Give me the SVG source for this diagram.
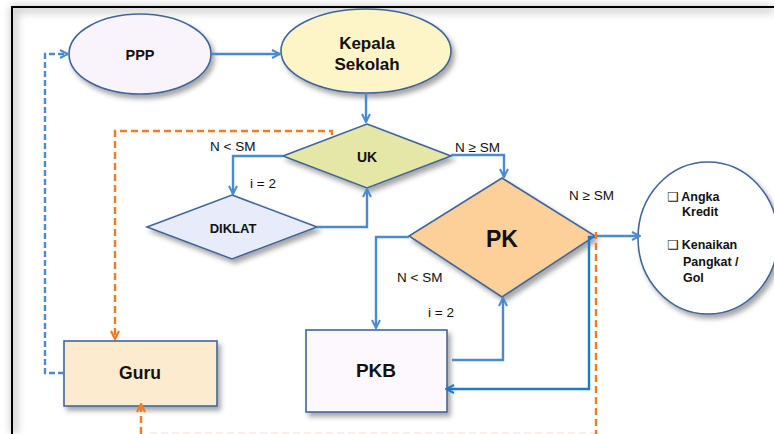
<svg xmlns="http://www.w3.org/2000/svg" width="774" height="434" viewBox="0 0 774 434">
<defs>
<filter id="sh" x="-20%" y="-20%" width="150%" height="160%">
<feDropShadow dx="3" dy="4" stdDeviation="2.5" flood-color="#000" flood-opacity="0.35"/>
</filter>
<filter id="fb" x="-5%" y="-5%" width="110%" height="110%">
<feGaussianBlur stdDeviation="4"/>
</filter>
<marker id="ab" viewBox="0 0 10 10" refX="9" refY="5" markerWidth="10" markerHeight="10" markerUnits="userSpaceOnUse" orient="auto">
<path d="M1,1 L9,5 L1,9" fill="none" stroke="#4a8ad0" stroke-width="2"/>
</marker>
<marker id="ab2" viewBox="0 0 10 10" refX="9" refY="5" markerWidth="10" markerHeight="10" markerUnits="userSpaceOnUse" orient="auto">
<path d="M1,1 L9,5 L1,9" fill="none" stroke="#1f78cf" stroke-width="2"/>
</marker>
<marker id="ao" viewBox="0 0 10 10" refX="9" refY="5" markerWidth="10" markerHeight="10" markerUnits="userSpaceOnUse" orient="auto">
<path d="M1,1 L9,5 L1,9" fill="none" stroke="#f47b20" stroke-width="2.2"/>
</marker>
</defs>
<style>
.node{stroke:#41659b;stroke-width:1.6;filter:url(#sh)}
.t{font-family:"Liberation Sans","DejaVu Sans",sans-serif;font-weight:bold;fill:#111;text-anchor:middle}
.lb{font-family:"Liberation Sans","DejaVu Sans",sans-serif;fill:#111;font-size:13.5px}
.tl{font-family:"Liberation Sans","DejaVu Sans",sans-serif;font-weight:bold;fill:#111;font-size:12.5px}
.bl{fill:none;stroke:#4a8ad0;stroke-width:2.4}
.bd{fill:none;stroke:#4a8ad0;stroke-width:2.4;stroke-dasharray:6,3}
.od{fill:none;stroke:#f47b20;stroke-width:2.4;stroke-dasharray:7,4}
</style>
<rect width="774" height="434" fill="#fff"/>
<path d="M14 434 V9 H774" fill="none" stroke="#999" stroke-width="6" filter="url(#fb)" opacity="0.6"/>
<path d="M12 434 V7 H774" fill="none" stroke="#000" stroke-width="2"/>

<g id="ppp">
<ellipse class="node" cx="140" cy="54" rx="71" ry="40" fill="#f9f4fc"/>
<text class="t" x="140" y="59.5" font-size="14.5">PPP</text>
</g>
<g id="kepala-sekolah">
<ellipse class="node" cx="366" cy="51" rx="85" ry="42" fill="#fdf5c8"/>
<text class="t" x="367" y="49" font-size="17">Kepala</text>
<text class="t" x="367" y="70" font-size="17">Sekolah</text>
</g>
<g id="uk">
<polygon class="node" points="367,124 451,156 367,188 283,156" fill="#e5e7a6"/>
<text class="t" x="367" y="162" font-size="14">UK</text>
</g>
<g id="diklat">
<polygon class="node" points="232,195 317,227 232,259 147,227" fill="#e8ebfa"/>
<text class="t" x="233" y="233" font-size="13">DIKLAT</text>
</g>
<g id="pk">
<polygon class="node" points="502,178 595,236 502,297 409,236" fill="#fdd09a"/>
<text class="t" x="502" y="247" font-size="23">PK</text>
</g>
<g id="guru">
<rect class="node" x="64" y="341" width="153" height="65" fill="#fdebd0"/>
<text class="t" x="140" y="379" font-size="17.5">Guru</text>
</g>
<g id="pkb">
<rect class="node" x="306" y="330" width="141" height="82" fill="#fcf8fd"/>
<text class="t" x="376" y="377" font-size="19">PKB</text>
</g>
<g id="hasil">
<ellipse class="node" cx="708" cy="238" rx="70" ry="76" fill="#fff"/>
<text class="tl" x="667" y="201">❑ Angka</text>
<text class="tl" x="682" y="216">Kredit</text>
<text class="tl" x="667" y="249">❑ Kenaikan</text>
<text class="tl" x="683" y="266">Pangkat /</text>
<text class="tl" x="683" y="282">Gol</text>
</g>

<g id="connectors">
<path class="bl" d="M212 54 H280" marker-end="url(#ab)"/>
<path class="bl" d="M366 94 V122" marker-end="url(#ab)"/>
<path class="bl" d="M451 155 H504 V177" marker-end="url(#ab)"/>
<path class="bl" d="M283 156 H233 V194" marker-end="url(#ab)"/>
<path class="bl" d="M317 227 H367 V189" marker-end="url(#ab)"/>
<path class="bl" d="M409 237 H376 V328" marker-end="url(#ab)"/>
<path class="bl" d="M452 360 H503 V298" marker-end="url(#ab)"/>
<path class="bl" d="M595 236 H640" marker-end="url(#ab)"/>
<path d="M596 237 H589 V389 H446" fill="none" stroke="#1f78cf" stroke-width="2.4" marker-end="url(#ab2)"/>
<path class="bd" d="M64 373 H45 V54 H68" marker-end="url(#ab)"/>
<path class="od" d="M332 135 V131 H115 V339" marker-end="url(#ao)"/>
<path class="od" d="M596 232 V434"/>
<path class="od" d="M141 434 V404" marker-end="url(#ao)"/>
<path d="M150 433 H596" stroke="#f47b20" stroke-width="1" stroke-dasharray="7,4" opacity="0.25"/>
</g>

<text class="lb" x="210" y="151">N  &lt; SM</text>
<text class="lb" x="250" y="188">i = 2</text>
<text class="lb" x="455" y="152">N ≥ SM</text>
<text class="lb" x="569" y="200">N ≥ SM</text>
<text class="lb" x="397" y="282">N &lt; SM</text>
<text class="lb" x="428" y="317">i = 2</text>
</svg>
